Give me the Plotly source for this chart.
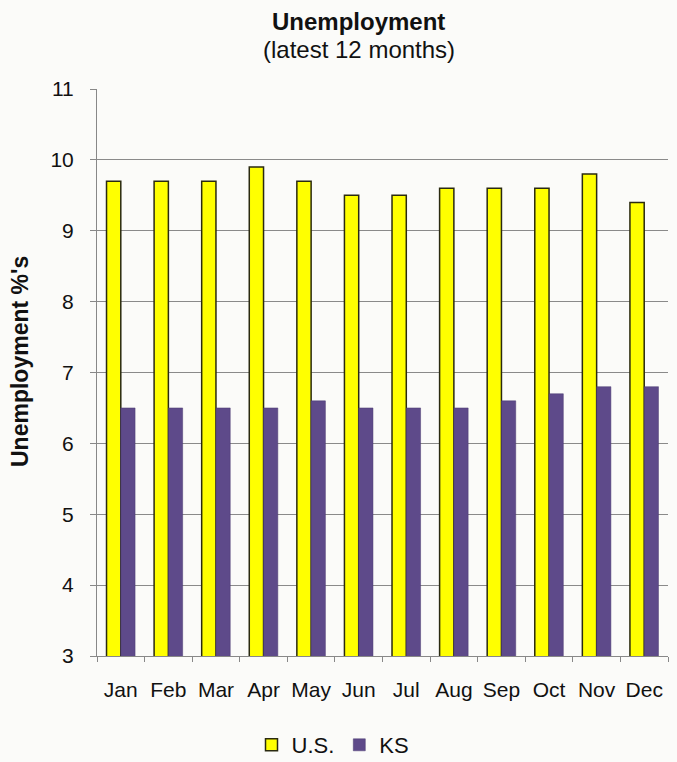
import plotly.graph_objects as go

months = ["Jan", "Feb", "Mar", "Apr", "May", "Jun", "Jul", "Aug", "Sep", "Oct", "Nov", "Dec"]
us_values = [9.7, 9.7, 9.7, 9.9, 9.7, 9.5, 9.5, 9.6, 9.6, 9.6, 9.8, 9.4]
ks_values = [6.5, 6.5, 6.5, 6.5, 6.6, 6.5, 6.5, 6.5, 6.6, 6.7, 6.8, 6.8]

font_family = "Liberation Sans, Arial, sans-serif"

W, H = 677, 762
l, r, t, b = 97, 9, 89, 106
pw, ph = W - l - r, H - t - b


def px_x(px):
    return (px - l) / pw


def px_y(py):
    return (H - b - py) / ph


fig = go.Figure()
fig.add_trace(go.Bar(x=months, y=us_values, name="U.S.",
                     marker=dict(color="#ffff00", line=dict(color="#2a2a10", width=1.5))))
fig.add_trace(go.Bar(x=months, y=ks_values, name="KS",
                     marker=dict(color="#5e4a8a", line=dict(color="#4a3a70", width=0.5))))

fig.update_layout(
    width=W, height=H,
    barmode="group", bargap=0.40, bargroupgap=0,
    paper_bgcolor="#fbfbf9", plot_bgcolor="#fbfbf9",
    font=dict(family=font_family, color="#111111", size=20),
    margin=dict(l=l, r=r, t=t, b=b, autoexpand=False),
    showlegend=True,
    legend=dict(orientation="h", x=px_x(333), xanchor="center", y=px_y(745), yanchor="middle",
                font=dict(size=22), itemwidth=30, bgcolor="rgba(0,0,0,0)"),
    xaxis=dict(showgrid=False, showline=True, linecolor="#888888", linewidth=1,
               ticks="outside", tickson="boundaries", ticklen=5, tickcolor="#888888",
               tickfont=dict(size=21), tickangle=0, ticklabelstandoff=15, automargin=False),
    yaxis=dict(range=[3, 11], dtick=1, showgrid=True, gridcolor="#8a8a8a", gridwidth=1,
               showline=True, linecolor="#888888", linewidth=1,
               ticks="outside", ticklen=6, tickcolor="#888888",
               tickfont=dict(size=21), ticklabelstandoff=12, automargin=False),
    annotations=[
        dict(text="<b>Unemployment</b>", x=px_x(358), y=px_y(22), xref="paper", yref="paper",
             xanchor="center", yanchor="middle", showarrow=False, font=dict(size=24)),
        dict(text="(latest 12 months)", x=px_x(359), y=px_y(49), xref="paper", yref="paper",
             xanchor="center", yanchor="middle", showarrow=False, font=dict(size=24)),
        dict(text="<b>Unemployment %'s</b>", x=px_x(20), y=px_y(362), xref="paper", yref="paper",
             xanchor="center", yanchor="middle", showarrow=False, textangle=-90,
             font=dict(size=23)),
    ],
)

fig.write_html("out.html", config={"displayModeBar": False},
               post_script="document.body.style.margin='0';")
